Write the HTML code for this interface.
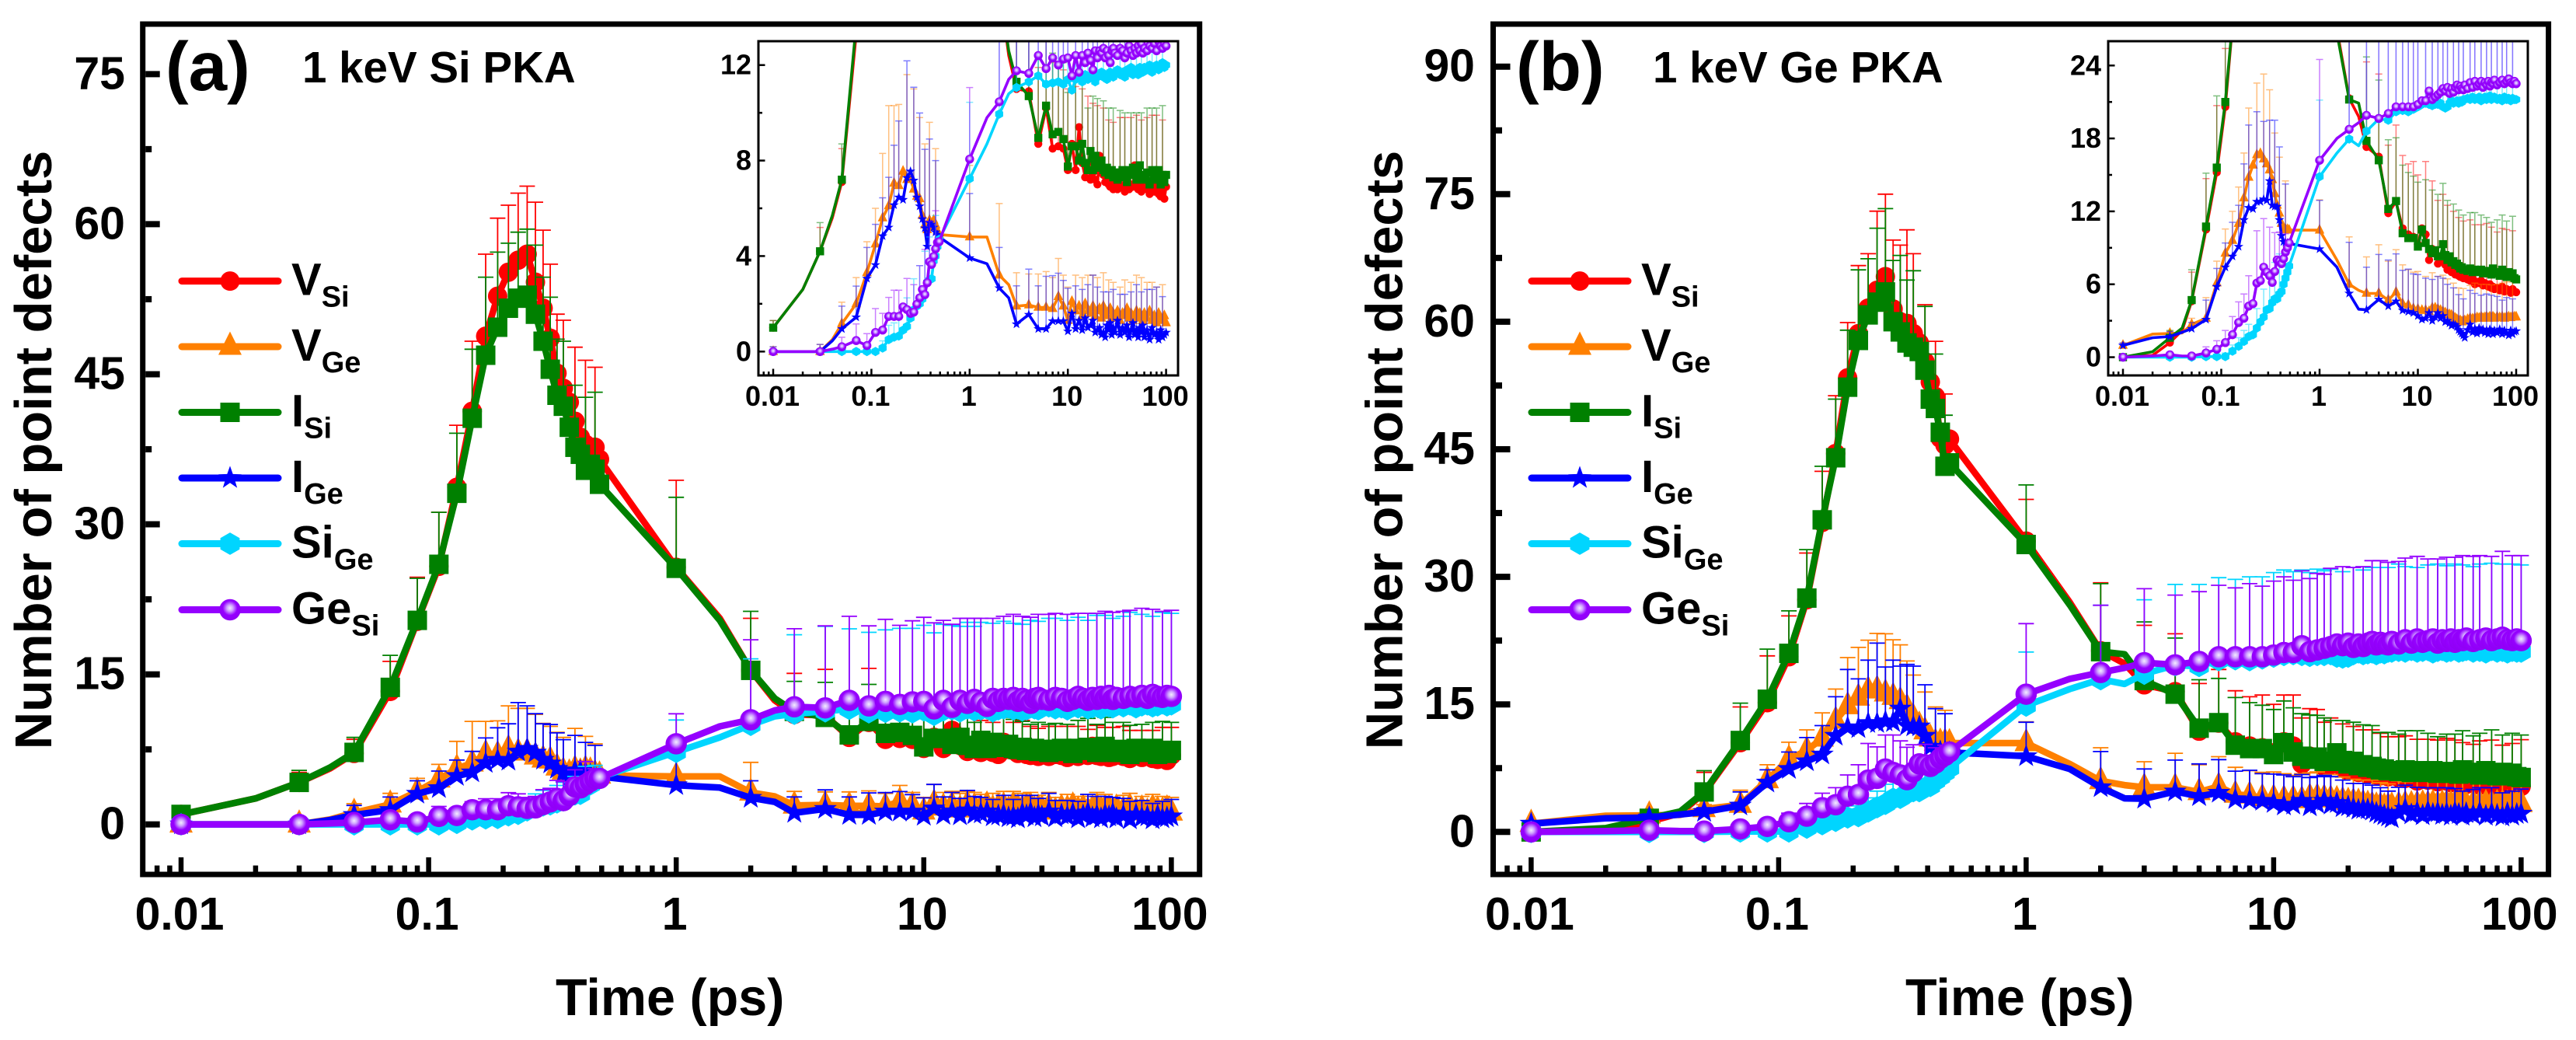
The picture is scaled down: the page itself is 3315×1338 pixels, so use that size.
<!DOCTYPE html>
<html lang="en">
<head>
<meta charset="utf-8">
<title>Number of point defects vs time</title>
<style>
html,body{margin:0;padding:0;background:#fff}
svg{display:block}
text{font-family:"Liberation Sans",Arial,sans-serif;font-weight:bold;fill:#000}
</style>
</head>
<body>
<svg id="figure" xmlns="http://www.w3.org/2000/svg" width="3315" height="1338" viewBox="0 0 3315 1338">
  <defs>
    <radialGradient id="sphere" cx="50%" cy="42%" r="55%">
      <stop offset="0%" stop-color="#f4ecff"/>
      <stop offset="26%" stop-color="#cfa6ff"/>
      <stop offset="62%" stop-color="#9500ff"/>
      <stop offset="100%" stop-color="#9000f5"/>
    </radialGradient>
    <clipPath id="clip-inset-a"><rect x="976" y="53" width="540" height="430"/></clipPath>
    <clipPath id="clip-inset-b"><rect x="2713" y="53" width="540" height="430"/></clipPath>
  </defs>
  <rect x="0" y="0" width="3315" height="1338" fill="#fff"/>

  <text transform="translate(66,579) rotate(-90)" text-anchor="middle" font-size="67">Number of point defects</text>
  <text x="715" y="1306" font-size="66.5">Time (ps)</text>
  <text x="213" y="116" font-size="89">(a)</text>
  <text x="389" y="106" font-size="56.5">1 keV Si PKA</text>

  <text transform="translate(1804.6,579) rotate(-90)" text-anchor="middle" font-size="67">Number of point defects</text>
  <text x="2452" y="1306" font-size="66.5">Time (ps)</text>
  <text x="1951" y="116" font-size="89">(b)</text>
  <text x="2127" y="106" font-size="56.5">1 keV Ge PKA</text>

  <g id="layer"></g>
</svg>

<script>
/* ---------- shared axis data ---------- */
const times = [
  .01,.02,.03,.04,.05,.07,.09,.11,.13,.15,.17,.19,.21,.23,.25,.27,.29,.31,.33,.35,.37,.39,.41,.43,.45,.47,.49,
  1,1.5,2,2.5,3,
  4,5,6,7,8,9,10,11,12,13,14,15,16,17,18,19,20,21,22,23,24,25,26,27,28,29,30,
  32,34,36,38,40,42,44,46,48,50,52,54,56,58,60,
  64,68,72,76,80,84,88,92,96,100
];
const noMarkerTimes = [.02,.04,1.5,2.5];
const xTickValues = [0.01,0.1,1,10,100];
const xTickLabels = ['0.01','0.1','1','10','100'];
const xMinorMultipliers = [2,3,4,5,6,7,8,9];
const legendMain = ['V','V','I','I','Si','Ge'];
const legendSub = ['Si','Ge','Si','Ge','Ge','Si'];

const yTicksMainA = [0,15,30,45,60,75];
const yMinorMainA = [7.5,22.5,37.5,52.5,67.5];
const yTicksInsetA = [0,4,8,12];
const yMinorInsetA = [2,6,10];
const yTicksMainB = [0,15,30,45,60,75,90];
const yMinorMainB = [7.5,22.5,37.5,52.5,67.5,82.5];
const yTicksInsetB = [0,6,12,18,24];
const yMinorInsetB = [3,9,15,21];

/* ---------- panel (a) values ---------- */
const aVSi = [1,2.6,4.2,5.6,7.1,13.3,20.3,25.8,33.7,41.3,48.8,52.8,55.2,56.4,57,54.2,51.6,48.6,45.1,43.6,42.2,40.3,38.7,38,37.7,37.7,36.5,
 25.7,20.6,15.4,12.4,11,
 10.9,8.7,10.2,8.5,8.6,8.5,7.6,8.7,7.6,9.4,7.9,7.3,7.9,7.2,7.5,7.2,7,8.2,7.5,7.4,7.1,7.3,7,6.9,7,6.8,7.2,
 6.8,7,6.9,6.7,7,6.8,7,6.9,7.8,6.9,6.8,7,6.7,6.8,7,
 6.8,6.6,7,6.7,6.9,6.6,6.5,6.7,6.4,6.9];
const aVGe = [0,0,0,.5,1.17,2,3.3,4.5,5.6,6.1,7.05,6.95,7.55,7.2,7.2,6.8,6.5,6.4,5.7,5.3,5.1,5.5,5.2,5.5,5.3,5.05,4.9,
 4.8,4.8,3.2,2.8,1.9,
 1.95,1.85,1.85,1.8,2.3,1.9,1.3,2.1,1.7,1.9,1.5,2,1.7,1.6,1.9,1.5,1.7,1.8,1.4,1.9,1.6,1.5,1.7,1.8,1.4,1.6,1.5,
 1.7,1.3,1.6,1.5,1.8,1.4,1.6,1.3,1.5,1.7,1.4,1.6,1.5,1.3,1.6,
 1.4,1.7,1.3,1.5,1.2,1.6,1.4,1.3,1.5,1.2];
const aISi = [1,2.6,4.2,5.7,7.2,13.7,20.4,26,33.1,40.6,46.9,49.7,51.6,52.6,52.9,51,48.3,45.5,42.9,41.8,39.7,37.7,37,35.4,36,35.5,34,
 25.6,20.4,15.4,12.6,11.3,
 10.7,8.95,10.3,9.1,9.2,8.9,7.75,8.6,8.6,8,8.7,7.9,7.6,8.4,7.6,8.2,7.8,7.7,8,7.6,7.5,7.7,7.4,7.5,7.6,7.3,7.5,
 7.2,7.5,7.6,7.3,7.1,7.6,7.4,7.7,7.6,7.2,7.5,7.8,7.3,7.4,7.2,
 7.5,7,7.6,7.2,7.3,7.6,7,7.4,7.1,7.4];
const aIGe = [0,0,0,.45,.95,1.44,3.06,3.63,4.84,5.2,6.14,6.46,6.36,7.28,7.55,7.17,6.46,6.09,5.55,5.17,4.4,5.4,5.33,5.2,5,4.9,4.8,
 3.92,3.68,2.66,2.25,1.15,
 1.55,.95,.95,1.28,1.28,1.28,.85,1.6,.95,1.3,.9,1.4,1,1.1,1.3,.8,.9,1,.7,.8,.6,1.1,.9,1.2,.7,1,.8,
 1.3,.7,1,.8,1.1,.6,.9,1.2,.7,.9,.6,1,.8,1.1,.6,
 .9,.5,1,.7,.8,.5,.9,.6,.7,.8];
const aSiGe = [0,0,0,0,0,0,0,0,.15,.5,.6,.65,.9,1.05,1.4,1.75,1.9,2,2.2,2.4,2.9,3,3.05,3.8,4,4.4,4.7,
 7.24,8.7,9.95,10.8,11.06,
 11.3,11.55,11.2,11.25,11.3,11.2,11.4,10.95,11.4,11.5,11.3,11.6,11.4,11.5,11.6,11.3,11.5,11.6,11.7,11.5,11.6,11.4,11.5,11.7,11.6,11.5,11.7,
 11.8,11.6,11.7,11.5,11.8,11.7,11.9,11.6,11.7,11.8,11.6,11.9,11.8,11.7,11.9,
 11.8,12,11.7,11.9,12,11.8,11.9,12.1,11.9,12];
const aGeSi = [0,0,0,.1,.2,.46,.25,.8,.9,1.47,1.47,1.47,1.87,1.76,1.6,1.65,1.98,2.25,2.6,2.38,2.88,3.76,3.65,3.98,4.3,4.57,4.6,
 8.06,9.8,10.46,11.4,11.76,
 11.65,12.4,11.85,12.3,12,12.25,12.3,11.55,12.4,11.7,12.4,12.1,12.5,12.2,11.8,12.6,12.3,12.6,12.5,12.7,12.3,12.6,12.4,12.1,12.6,12.7,12.5,
 12.4,12.7,12.6,12.3,12.5,12.8,12.6,12.4,12.7,12.5,12.8,12.6,12.9,12.5,12.7,
 12.6,12.8,12.7,12.9,12.6,13,12.8,12.7,12.9,12.8];

const aVSiErr = [.3,0,1,0,1.4,3,4.4,5.4,6.2,7,8.2,7.8,6.7,6.7,6.8,8,7.8,7.4,5.9,6.8,6.6,7.4,7.7,8.4,10.3,8,8,
 8.7,0,5.2,0,4.1,
 4.6,3.2,5.4,3.6,3.4,3.3,3.4,3,3.5,2.9,3.1,3.4,2.8,3.2,2.9,3,3.3,2.6,3.1,2.8,3,3.1,2.7,2.9,3,2.8,2.6,
 3,2.8,2.9,3.1,2.7,3,2.8,2.6,2.9,3,2.8,2.7,3,2.9,2.7,
 3,2.8,2.9,2.7,3,2.8,2.9,3,2.7,2.8];
const aVGeErr = [.2,0,.3,0,.9,1.1,1.3,1.5,2.7,4.2,3.25,3.4,4.3,4.4,4.4,4.2,3.6,3.4,3.5,3.4,3.1,4.1,4,3.3,3.2,3,3,
 3,0,3,0,1.4,
 1.3,1.4,1.5,1.3,1.6,1.3,1.4,1.9,1.5,1.4,1.6,1.3,1.5,1.4,1.3,1.6,1.4,1.5,1.3,1.4,1.5,1.6,1.3,1.4,1.5,1.3,1.4,
 1.5,1.4,1.3,1.5,1.6,1.4,1.3,1.5,1.4,1.5,1.3,1.4,1.6,1.4,1.3,
 1.5,1.4,1.6,1.3,1.5,1.4,1.6,1.5,1.4,1.5];
const aISiErr = [.3,0,1.2,0,1.5,3.2,4.2,5.2,6,6.9,7.8,7.5,6.5,6.6,6.6,6.9,6.4,7.2,5.6,6.5,6.3,6.2,6.1,7.3,7.6,7.7,7,
 7.1,0,5.9,0,3,
 3.5,3.3,3.7,3.4,2.9,3.2,3.1,3.3,2.8,3.1,2.7,3,2.6,2.9,3.1,2.7,2.8,3,2.5,2.9,2.7,2.6,2.8,2.5,2.7,2.9,2.6,
 2.8,2.6,2.9,2.7,2.5,2.8,2.6,2.9,2.7,2.8,2.5,2.9,2.7,2.8,2.6,
 2.7,2.9,2.6,2.8,2.9,2.6,2.8,2.9,2.7,2.8];
const aIGeErr = [.2,0,.3,0,.95,1.3,1.3,1.7,1.6,2.1,2.5,3.2,3.7,4.9,4.3,3.9,3.6,3.9,3.6,3.3,3.6,3.5,3.5,3,3,3,2.9,
 2.7,0,1.7,0,1.6,
 1.9,1.8,2.2,1.9,2,1.7,1.8,2.4,1.8,1.9,1.7,2,1.8,1.6,1.9,1.7,1.8,1.9,1.6,1.7,1.9,1.8,1.6,1.7,1.8,1.6,1.7,
 1.8,1.7,1.9,1.6,1.8,1.7,1.6,1.8,1.7,1.9,1.6,1.8,1.7,1.6,1.8,
 1.7,1.8,1.6,1.7,1.9,1.6,1.8,1.7,1.6,1.7];
const aSiGeErr = [.1,0,.1,0,.1,.1,.1,.1,.3,.6,.6,.7,.9,1.2,1.3,1.3,1.5,1.6,1.7,1.8,1.6,1.8,1.9,2,1.7,1.5,1.4,
 3.2,0,6.6,0,7.9,
 8.5,8,8,8.2,8.3,8.4,8.5,8.2,8.6,8.4,8.5,8.6,8.4,8.7,8.6,8.8,8.5,8.7,8.8,8.6,8.7,8.6,8.8,8.7,8.9,8.8,8.7,
 8.8,9,8.8,8.9,8.7,9,8.9,8.8,9,9.1,8.9,9,9.1,8.9,9.1,
 9,9.2,9,9.1,9.2,9,9.2,9.1,9,9.1];
const aGeSiErr = [.1,0,.1,0,.4,.7,.5,1,.7,.8,1.1,1.1,1.3,1.3,1.1,1.15,1.5,1.35,1.8,1.9,2.2,1.7,2.5,2.3,1.6,1,1,
 3,0,8,0,7.8,
 8.2,8.4,8,8.2,7.9,8.1,8.4,8.6,8,8.3,8.2,8.5,8.1,8.4,8.3,8,8.4,8.2,8.5,8.3,8.6,8.2,8.4,8.6,8.5,8.3,8.5,
 8.6,8.4,8.5,8.7,8.5,8.3,8.6,8.7,8.5,8.6,8.4,8.7,8.5,8.7,8.5,
 8.7,8.6,8.5,8.7,8.6,8.5,8.7,8.6,8.5,8.6];

/* ---------- panel (b) values ---------- */
const bVSi = [0,.15,1.2,2.2,4.6,10.5,15.2,20.6,27.3,36.4,44.5,53.4,58.6,61.6,63.7,65.3,61.5,60,59.8,58.6,57.5,55.3,52.9,51.2,46.3,45.5,46.2,
 34.2,27,21.3,19.8,17.3,
 16.5,11.85,12.8,10.6,10.1,9.9,9.3,10.6,10.1,8,8.9,8.6,7.7,7.9,8,7.6,7.2,7.4,7,7.1,6.8,7,6.7,6.6,6.8,6.5,6.6,
 6.4,6.3,6.5,6,6.2,6.1,6.3,5.9,6.1,6,5.8,6,5.7,5.8,5.6,
 5.7,5.5,5.8,5.4,5.6,5.5,5.3,5.6,5.4,5.35];
const bVGe = [.97,1.9,1.95,2,2.7,3.2,6.1,8.55,9.6,11,13.1,14.8,15.8,16.65,16.75,16.3,15.9,15.4,14.6,13.45,12.5,11.85,11,10.5,10.5,10.5,10.45,
 10.45,8,6,5.5,5.25,
 5.25,4.7,5.35,4.4,4.3,4,3.95,3.85,3.85,3.75,4.05,4.05,3.95,3.85,3.75,3.65,3.55,3.5,3.45,3.3,3.2,3.1,3,3,2.9,2.95,3,
 3.1,3.2,3.15,3.2,3.25,3.2,3.3,3.2,3.25,3.3,3.2,3.3,3.25,3.3,3.2,
 3.3,3.25,3.3,3.2,3.3,3.3,3.25,3.3,3.3,3.3];
const bISi = [0,.45,1.6,2.4,4.7,10.75,15.6,21,27.5,36.7,44,52.3,57.8,60.8,62.3,63.5,60,58.8,57.5,57,56.5,54.3,50.9,49.8,47,43,43.4,
 33.8,26.7,21.2,20.9,17.8,
 16.2,12.2,12.85,10.2,9.8,9.8,9.1,10.5,9.4,8.9,8.55,8.8,8.3,8.3,9.3,8.4,8,8.3,7.8,7.9,7.6,7.7,7.5,7.3,7.4,7.2,7.2,
 7.1,7.3,7,7.2,7.1,7,7.2,6.9,7.05,7.1,6.9,7,6.8,7.3,6.9,
 7,6.7,7.2,6.8,6.6,7,6.7,6.9,6.5,6.4];
const bIGe = [.97,1.6,1.7,2.05,2.35,3.1,5.8,7.4,8.3,9.1,11.3,12.3,12.2,12.8,12.8,13,12.9,14.5,12.5,12.4,12.4,11.3,10,9.5,9.45,9.4,9.35,
 8.9,7.4,5.25,3.95,3.9,
 4.75,4.2,4.6,3.85,3.75,3.65,3.4,3.1,3.2,3.65,3,3.3,3.65,3.2,3.4,2.9,3,2.8,2.6,2.7,2.65,2.5,2.25,2.1,1.95,1.8,1.6,
 2.25,2.7,2.05,2.35,1.95,2.4,2.1,2.3,2,2.2,1.9,2.3,2.1,1.9,2.2,
 2,2.3,1.9,2.2,2,1.8,2.2,1.9,2.1,2.15];
const bSiGe = [0,0,0,0,0,.05,.05,.05,.5,.9,1.3,1.7,1.85,2.4,2.9,3.3,3.9,4,4.5,4.8,4.8,5.2,5.4,6,6.5,7,7.5,
 14.85,16.8,17.95,17.4,18.6,
 19.6,19.5,20.2,20.3,20.2,20.4,20.6,20.8,20.9,20.8,20.7,20.8,20.8,20.9,20.6,20.5,20.6,20.9,21.1,20.9,21,21.1,20.9,21.1,21,21.2,21.2,
 21.3,21.2,21.4,21.2,21.3,21.4,21.1,21.3,21.4,21.2,21.3,21.5,21.2,21.3,21.4,
 21.2,21.3,21.1,21.4,21.2,21.3,21.1,21.3,21.2,21.2];
const bGeSi = [0,.1,.2,.1,.1,.35,.65,1.2,1.85,2.85,3.2,4.2,4.4,6.1,6.3,7.4,7,6.7,6.15,7.05,8,7.9,7.7,8.1,8.65,9,9.4,
 16.2,18,18.75,19.3,19.9,
 19.65,20.05,20.6,20.6,20.6,20.6,20.8,21.1,21.1,21.9,21.2,21.4,21.6,21.8,22.1,21.9,22.2,21.7,22.1,21.8,22.2,22.4,22,22.3,22.1,22,22.4,
 22.1,22.6,22.2,22.7,22.3,22.5,22.7,22.2,22.6,22.4,22.7,22.3,22.6,22.5,22.8,
 22.4,22.6,22.8,22.5,22.7,22.9,22.6,22.5,22.7,22.5];

const bVSiErr = [.2,0,.6,0,2.4,4.2,5.5,4.8,5.5,6,6.8,6.5,8,6.4,9.3,9.7,8.1,9,11,9.4,11,6.7,6.7,6.5,6.2,6,6,
 4.9,0,8,0,7,
 6.8,5.6,6.3,6,5.8,6.2,5.7,5.5,6,5.4,5.6,5.8,5.2,5.5,5.4,5.1,5.3,5,5.2,4.9,5.1,5,4.8,5,4.9,4.7,4.9,
 4.8,5,4.7,4.9,5.1,4.8,4.6,4.9,4.7,5,4.6,4.8,5,4.7,4.9,
 4.6,5.2,4.8,5.4,4.9,4.7,5.3,4.8,5,5.5];
const bVGeErr = [.2,0,.2,0,.5,1.7,1.8,2,2.4,3,3.7,5.7,5.9,5.9,6.6,7,6.7,6.6,5.5,5,4.8,4.6,4.5,4.2,4,3.8,3.6,
 2.5,0,3.9,0,3,
 4,3.2,3.5,3.2,2.9,3,3.1,3,2.8,3.1,2.9,3,2.7,2.9,3,2.8,2.9,2.7,3,2.8,2.9,3,2.7,2.8,2.9,2.7,2.8,
 2.9,2.7,2.8,2.9,2.7,2.8,2.7,2.9,2.8,2.7,2.9,2.8,2.7,2.9,2.8,
 2.7,2.9,2.8,2.7,2.9,2.8,2.7,2.9,2.8,2.8];
const bISiErr = [.2,0,.6,0,2.5,4.4,5.9,5,5.7,6.3,6.9,6.7,8.3,6.6,8.7,9.8,7.2,9,7.4,9,9.5,7.5,6.6,6.4,6.2,6,5.8,
 7,0,8,0,6.9,
 6.6,5.7,5.2,5.6,5.4,5.1,5.3,4.9,5.2,5,5.2,4.9,5.1,4.8,5,4.7,4.9,4.6,4.8,4.7,4.5,4.8,4.6,4.4,4.7,4.5,4.6,
 4.4,4.6,4.5,4.7,4.4,4.6,4.5,4.3,4.6,4.4,4.7,4.5,4.3,4.6,4.5,
 4.3,4.9,4.5,5.2,4.6,4.4,5,4.7,5.1,5];
const bIGeErr = [.2,0,.4,0,.5,1.6,1.5,2,2.8,3.4,4.6,6.8,5.8,7.4,9.4,6.4,7.3,5,7.2,7.1,5.4,6,5.3,5,4.8,4.5,4.2,
 4,0,4.2,0,3.5,
 3.7,3.8,3.9,3.3,3.5,3.2,3.4,3.6,3.3,3.1,3.4,3.2,3,3.3,3.1,3.2,3,2.9,3.1,3,2.8,3,2.9,3.1,2.8,3,2.9,
 3,2.8,3.1,2.9,3,2.8,3,2.9,2.8,3,2.9,2.8,3,2.9,2.8,
 3,2.9,2.8,3,2.9,2.8,3,2.9,2.8,2.9];
const bSiGeErr = [.1,0,.1,0,.1,.1,.2,.3,.5,.7,.9,1,1.2,1.6,1.9,2.3,2.6,2.7,2.9,3,3.2,3.3,2.8,2.6,2.3,2,1.8,
 6.3,0,8.7,0,8.7,
 9.5,9.6,9.7,9.4,9.8,9.6,9.9,10,9.7,10,9.8,10.1,9.9,10,9.8,10.1,9.9,10.2,10,9.9,10.1,10,10.2,10,10.1,9.9,10.1,
 10.2,10,10.1,9.9,10.2,10,10.1,10.2,10,10.1,10.2,10,10.2,10.1,10.2,
 10,10.2,10.1,10.2,10,10.2,10.1,10.2,10.1,10.2];
const bGeSiErr = [.1,0,.1,0,.2,.5,.7,1,1.5,1.7,2,2.5,3.5,4.3,3.7,4,4.4,4,3.8,3.2,2.6,2.4,2,1.8,1.5,1.2,1,
 8.3,0,7.9,0,8.7,
 8.2,8.2,8.4,8.1,8.6,8.3,8.7,8.9,8.5,8.8,8.6,9,8.7,9.2,8.9,9.3,9.1,9.4,9.2,9.4,9.3,9.5,9.4,9.6,9.5,9.7,9.5,
 9.7,9.6,9.8,9.7,9.8,9.6,9.8,9.9,9.7,9.9,9.8,10,9.8,10,9.9,
 10,9.9,10.1,9.9,10,10.1,9.9,10,9.9,10];

/* ---------- drawing ---------- */
const NS = 'http://www.w3.org/2000/svg';
const layer = document.getElementById('layer');

function make(tag, attrs, parent) {
  const node = document.createElementNS(NS, tag);
  for (const k in attrs) node.setAttribute(k, attrs[k]);
  parent.appendChild(node);
  return node;
}

const seriesStyle = [
  {key:'v-si',  kind:'circle',   color:'#ff0000'},
  {key:'v-ge',  kind:'triangle', color:'#ff8000'},
  {key:'i-si',  kind:'square',   color:'#008000'},
  {key:'i-ge',  kind:'star',     color:'#0000ff'},
  {key:'si-ge', kind:'hexagon',  color:'#00d5ff'},
  {key:'ge-si', kind:'sphere',   color:'#9500ff'}
];

function polyPoints(cx, cy, pts) {
  return pts.map(p => (cx + p[0]).toFixed(1) + ',' + (cy + p[1]).toFixed(1)).join(' ');
}

function drawMarker(parent, kind, cx, cy, r, color, name) {
  let m;
  if (kind === 'circle') {
    m = make('circle', {cx:cx, cy:cy, r:r, fill:color}, parent);
  } else if (kind === 'sphere') {
    m = make('circle', {cx:cx, cy:cy, r:r * 1.1, fill:'url(#sphere)'}, parent);
  } else if (kind === 'square') {
    m = make('rect', {x:cx - r, y:cy - r, width:2 * r, height:2 * r, fill:color}, parent);
  } else if (kind === 'triangle') {
    const s = r * 1.2;
    m = make('polygon', {points:polyPoints(cx, cy, [[0, -s * 1.3], [s, s * .7], [-s, s * .7]]), fill:color}, parent);
  } else if (kind === 'hexagon') {
    const pts = [];
    for (let i = 0; i < 6; i++) {
      const a = Math.PI / 180 * (60 * i - 90);
      pts.push([r * 1.15 * Math.cos(a), r * 1.15 * Math.sin(a)]);
    }
    m = make('polygon', {points:polyPoints(cx, cy, pts), fill:color}, parent);
  } else {
    const pts = [];
    for (let i = 0; i < 10; i++) {
      const a = Math.PI / 180 * (36 * i - 90);
      const rr = i % 2 ? r * .5 : r * 1.25;
      pts.push([rr * Math.cos(a), rr * Math.sin(a)]);
    }
    m = make('polygon', {points:polyPoints(cx, cy, pts), fill:color}, parent);
  }
  
  
  return m;
}

function drawAxes(ax) {
  const g = make('g', {}, layer);
  
  

  const frame = make('rect', {x:ax.left, y:ax.top, width:ax.right - ax.left, height:ax.bottom - ax.top, fill:'none', stroke:'#000', 'stroke-width':ax.frameW}, g);
  
  

  const inner = ax.frameW / 2;
  xTickValues.forEach((t, i) => {
    const px = ax.x(t);
    const tick = make('line', {x1:px, x2:px, y1:ax.bottom - inner, y2:ax.bottom - inner - ax.majorLen, stroke:'#000', 'stroke-width':ax.tickW}, g);
    
    
    const label = make('text', {x:px + ax.xLabelDx, y:ax.xLabelY, 'text-anchor':'middle', 'font-size':ax.labelSize}, g);
    label.textContent = xTickLabels[i];
    
    
    if (i < xTickValues.length - 1) {
      xMinorMultipliers.forEach(mult => {
        const mx = ax.x(t * mult);
        const minor = make('line', {x1:mx, x2:mx, y1:ax.bottom - inner, y2:ax.bottom - inner - ax.minorLen, stroke:'#000', 'stroke-width':ax.tickW}, g);
        
        
      });
    }
  });
  [0.008, 0.009].forEach(t => {
    const mx = ax.x(t);
    const minor = make('line', {x1:mx, x2:mx, y1:ax.bottom - inner, y2:ax.bottom - inner - ax.minorLen, stroke:'#000', 'stroke-width':ax.tickW}, g);
    
    
  });

  ax.yTicks.forEach(v => {
    const py = ax.y(v);
    const tick = make('line', {x1:ax.left + inner, x2:ax.left + inner + ax.majorLen, y1:py, y2:py, stroke:'#000', 'stroke-width':ax.yTickW}, g);
    
    
    const label = make('text', {x:ax.yLabelX, y:py + ax.yLabelDy, 'text-anchor':'end', 'font-size':ax.labelSize}, g);
    label.textContent = String(v);
    
    
  });
  ax.yMinor.forEach(v => {
    const py = ax.y(v);
    const minor = make('line', {x1:ax.left + inner, x2:ax.left + inner + ax.minorLen, y1:py, y2:py, stroke:'#000', 'stroke-width':ax.yTickW}, g);
    
    
  });
}

function drawSeries(ax, values, errors) {
  const g = make('g', ax.clip ? {'clip-path':'url(#' + ax.clip + ')'} : {}, layer);
  
  

  seriesStyle.forEach((st, s) => {
    const vals = values[s];
    const errs = errors[s];
    const sg = make('g', {}, g);
    
    

    let lastBarX = -1e9;
    times.forEach((t, i) => {
      if (!errs[i]) return;
      const px = ax.x(t);
      if (px - lastBarX < ax.barGap) return;
      lastBarX = px;
      const y0 = ax.y(vals[i]);
      const y1 = ax.y(vals[i] + errs[i]);
      const d = 'M' + px.toFixed(1) + ' ' + y0.toFixed(1) + 'V' + y1.toFixed(1) +
        'M' + (px - ax.capW / 2).toFixed(1) + ' ' + y1.toFixed(1) + 'H' + (px + ax.capW / 2).toFixed(1);
      const bar = make('path', {d:d, fill:'none', stroke:st.color, 'stroke-width':ax.errW, 'stroke-opacity':ax.errOpacity}, sg);
      
      
    });

    const pts = times.map((t, i) => ax.x(t).toFixed(1) + ',' + ax.y(vals[i]).toFixed(1)).join(' ');
    const line = make('polyline', {points:pts, fill:'none', stroke:st.color, 'stroke-width':ax.lineW, 'stroke-linejoin':'round', 'stroke-linecap':'round'}, sg);
    
    

    times.forEach((t, i) => {
      if (noMarkerTimes.includes(t)) return;
      drawMarker(sg, st.kind, ax.x(t), ax.y(vals[i]), ax.markerR, st.color, st.key + '-point');
    });
  });
}

function drawLegend(dx, panel) {
  const g = make('g', {}, layer);
  
  
  const lineYs = [361.6, 446, 530.5, 615, 699.5, 784.5];
  seriesStyle.forEach((st, i) => {
    const ly = lineYs[i];
    const entry = make('g', {}, g);
    
    
    const swatch = make('line', {x1:234 + dx, x2:358 + dx, y1:ly, y2:ly, stroke:st.color, 'stroke-width':9, 'stroke-linecap':'round'}, entry);
    
    
    drawMarker(entry, st.kind, 296 + dx, ly, 12.5, st.color, 'legend-marker-' + st.key);
    const label = make('text', {x:375 + dx, y:ly + 18, 'font-size':58}, entry);
    label.appendChild(document.createTextNode(legendMain[i]));
    const sub = make('tspan', {dy:15, 'font-size':38}, label);
    sub.textContent = legendSub[i];
    
    
  });
}

function axis(o) {
  o.x = t => o.x0 + o.decade * (Math.log10(t) + 2);
  o.y = v => o.bottom - (v - o.yMin) * (o.bottom - o.top) / (o.yMax - o.yMin);
  return o;
}

const mainStyle = {frameW:7, tickW:6.5, yTickW:8, majorLen:18.5, minorLen:8, labelSize:59, xLabelY:1196, xLabelDx:-2, yLabelDy:19, lineW:8.5, markerR:12.5, capW:20, errW:1.8, errOpacity:1, barGap:8, top:31, bottom:1125};
const insetStyle = {frameW:3, tickW:2.5, yTickW:2.5, majorLen:7, minorLen:3.5, labelSize:36, xLabelY:522, xLabelDx:-1, yLabelDy:12, lineW:3.6, markerR:5.2, capW:9, errW:1.5, errOpacity:.5, barGap:5.5, top:53, bottom:483};

const aValues = [aVSi, aVGe, aISi, aIGe, aSiGe, aGeSi];
const aErrors = [aVSiErr, aVGeErr, aISiErr, aIGeErr, aSiGeErr, aGeSiErr];
const bValues = [bVSi, bVGe, bISi, bIGe, bSiGe, bGeSi];
const bErrors = [bVSiErr, bVGeErr, bISiErr, bIGeErr, bSiGeErr, bGeSiErr];

const axesA = axis(Object.assign({name:'main-a', left:183.7, right:1543.7, x0:233, decade:318.6, yMin:-5, yMax:80, yTicks:yTicksMainA, yMinor:yMinorMainA, yLabelX:161}, mainStyle));
const insetA = axis(Object.assign({name:'inset-a', clip:'clip-inset-a', left:976, right:1516, x0:995, decade:126.4, yMin:-1, yMax:13, yTicks:yTicksInsetA, yMinor:yMinorInsetA, yLabelX:967}, insetStyle));
const axesB = axis(Object.assign({name:'main-b', left:1921.5, right:3279.6, x0:1970.4, decade:318.5, yMin:-5, yMax:95, yTicks:yTicksMainB, yMinor:yMinorMainB, yLabelX:1898}, mainStyle));
const insetB = axis(Object.assign({name:'inset-b', clip:'clip-inset-b', left:2713, right:3253, x0:2732, decade:126.5, yMin:-1.5, yMax:26, yTicks:yTicksInsetB, yMinor:yMinorInsetB, yLabelX:2704}, insetStyle));

drawSeries(axesA, aValues, aErrors);
drawAxes(axesA);
drawLegend(0, 'a');
drawSeries(insetA, aValues, aErrors);
drawAxes(insetA);

drawSeries(axesB, bValues, bErrors);
drawAxes(axesB);
drawLegend(1737, 'b');
drawSeries(insetB, bValues, bErrors);
drawAxes(insetB);
</script>
</body>
</html>
